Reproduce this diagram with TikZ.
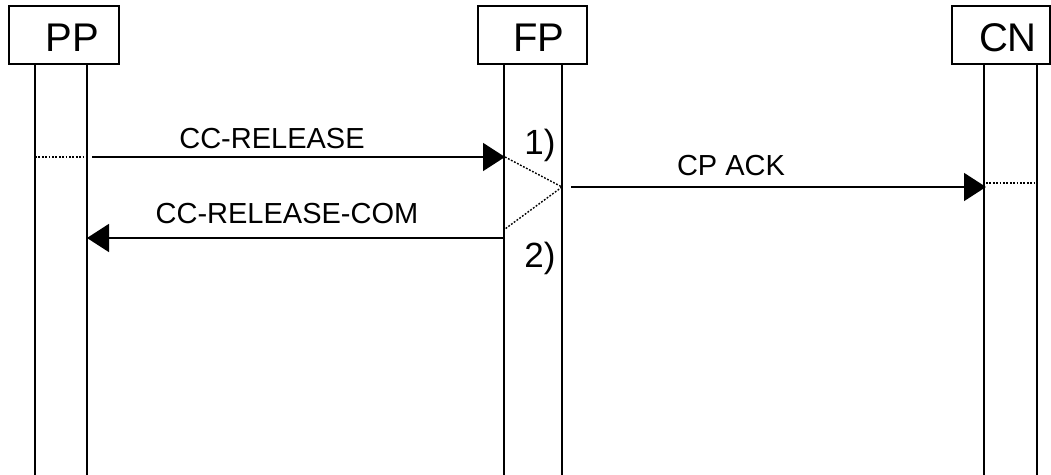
\documentclass[tikz,border=0pt]{standalone}
\usepackage{fontspec}
\setmainfont{Liberation Sans}
\usetikzlibrary{arrows.meta}
\begin{document}
\begin{tikzpicture}[x=0.5pt,y=-0.5pt,
    ent/.style={draw,line width=0.65pt,minimum height=29pt,inner sep=0pt},
    msg/.style={line width=0.85pt,-{Triangle[length=11pt,width=14pt]}},
    dots/.style={line width=0.7pt,dash pattern=on 0.9pt off 0.8pt},
    lbl/.style={font=\fontsize{14.5}{17}\selectfont,inner sep=0pt},
    num/.style={font=\fontsize{17.5}{20}\selectfont,inner sep=0pt}]
    \useasboundingbox (0,0) rectangle (1051,475);
    % entities
    \node[ent,minimum width=55pt] (pp) at (64,35) {};
    \node[ent,minimum width=54.5pt] (fp) at (532.5,35) {};
    \node[ent,minimum width=49pt] (cn) at (1001,35) {};
    \node[font=\fontsize{20}{22}\selectfont,inner sep=0pt] (ppt) at (72,37.5) {PP};
    \node[font=\fontsize{20}{22}\selectfont,inner sep=0pt] (fpt) at (539,37.5) {FP};
    \node[font=\fontsize{20}{22}\selectfont,inner sep=0pt] (cnt) at (1008,37.5) {CN};
    % lifelines
    \foreach \x in {35,87,504,562,984,1037}
        \draw[line width=0.6pt] (\x,64) -- (\x,475);
    % messages
    \coordinate (r1) at (92,157);
    \coordinate (r2) at (505,157);
    \coordinate (c1) at (505,238);
    \coordinate (c2) at (87,238);
    \coordinate (a1) at (571,187);
    \coordinate (a2) at (986,187);
    \draw[msg] (r1) -- (r2);
    \draw[msg] (c1) -- (c2);
    \draw[msg] (a1) -- (a2);
    \node[lbl] (rell) at (272,139) {CC-RELEASE};
    \node[lbl] (coml) at (287,214) {CC-RELEASE-COM};
    \node[lbl] (ackl) at (731,166) {CP ACK};
    % dotted joins
    \coordinate (d1) at (35,157);
    \coordinate (d2) at (87,157);
    \coordinate (f1) at (562,187);
    \coordinate (f2) at (505,229);
    \coordinate (n1) at (986,183);
    \coordinate (n2) at (1037,183);
    \draw[dots] (d1) -- (d2);
    \draw[dots] (r2) -- (f1) -- (f2);
    \draw[dots] (n1) -- (n2);
    \node[num] (one) at (540,145) {1)};
    \node[num] (two) at (540,258) {2)};
\end{tikzpicture}
\end{document}
